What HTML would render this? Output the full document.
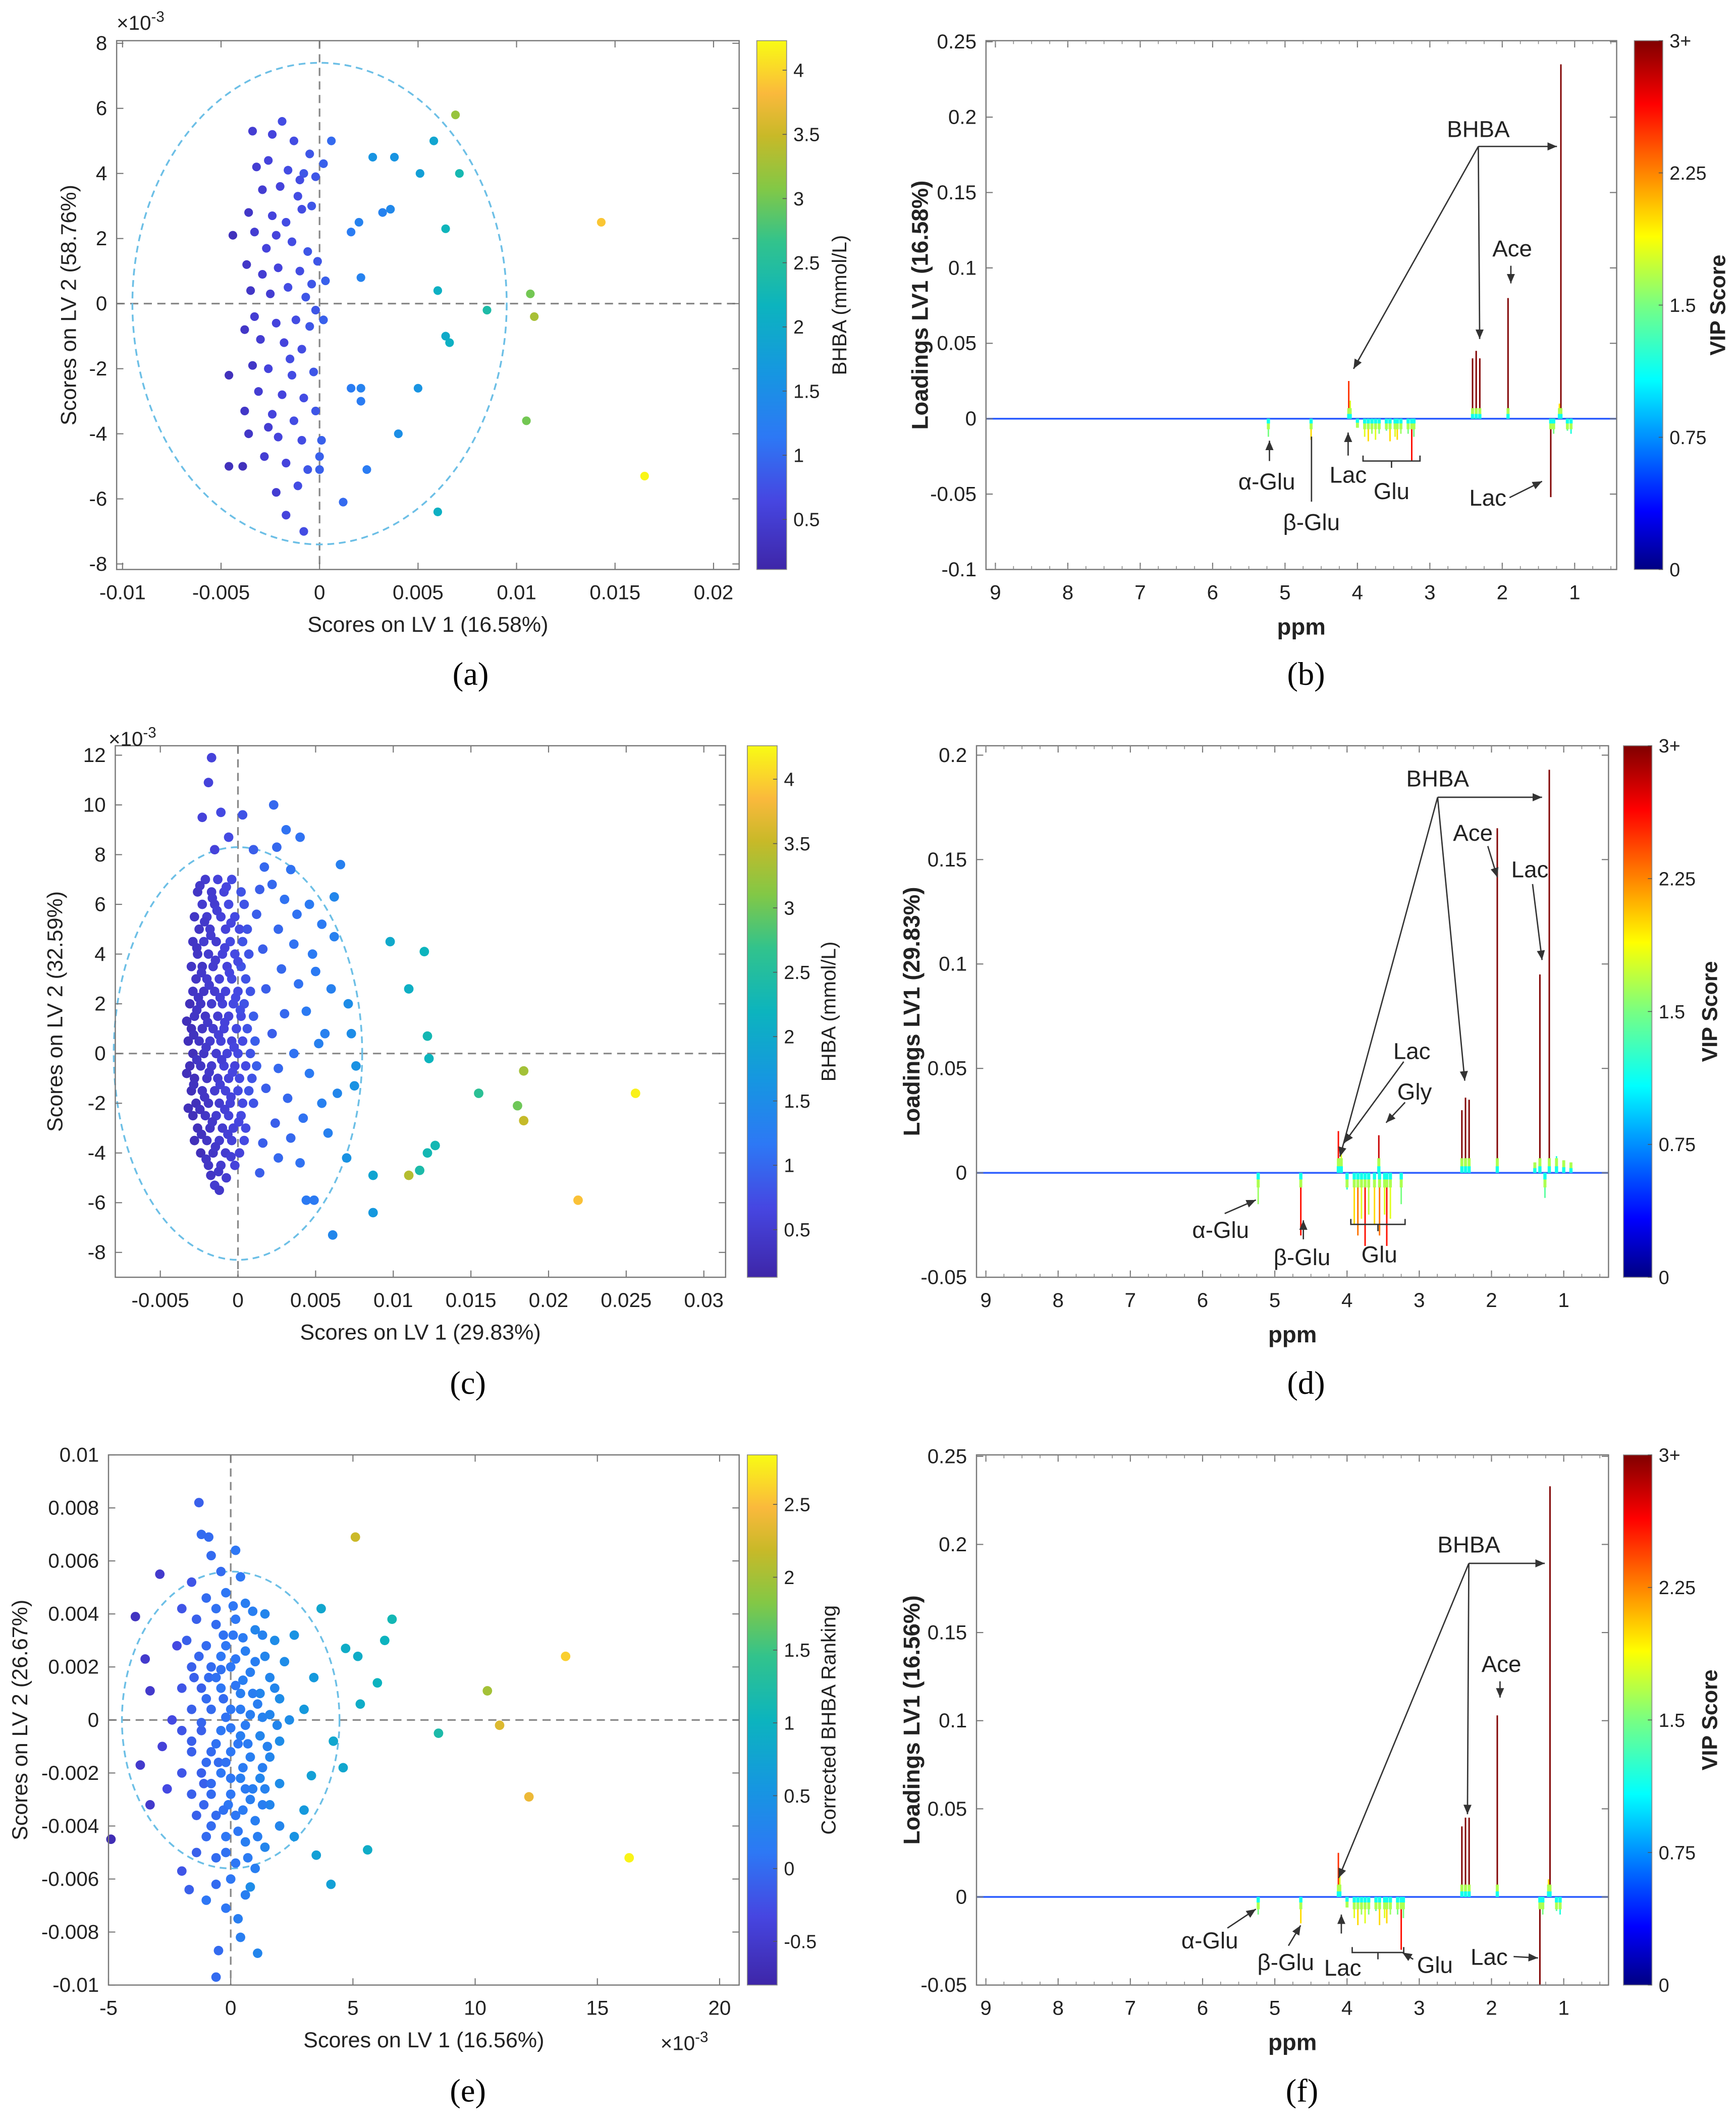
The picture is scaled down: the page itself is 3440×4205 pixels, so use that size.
<!DOCTYPE html>
<html><head><meta charset="utf-8"><style>
html,body{margin:0;padding:0;background:#fff;}
svg{display:block;}
text{font-family:"Liberation Sans",sans-serif;fill:#222;}
.cap{font-family:"Liberation Serif",serif;font-size:24px;fill:#000;}
</style></head><body>
<svg id="fig" width="3440" height="4205" viewBox="0 0 1280 1565" preserveAspectRatio="none" xmlns="http://www.w3.org/2000/svg">
<rect width="1280" height="1565" fill="#fff"/>
<text class="cap" x="347" y="505" text-anchor="middle">(a)</text>
<text class="cap" x="963" y="505" text-anchor="middle">(b)</text>
<text class="cap" x="345" y="1028" text-anchor="middle">(c)</text>
<text class="cap" x="963" y="1028" text-anchor="middle">(d)</text>
<text class="cap" x="345" y="1550" text-anchor="middle">(e)</text>
<text class="cap" x="960" y="1550" text-anchor="middle">(f)</text>
</svg>
<script>
// ---------- DATA ----------
// scores in units of 1e-3 : [x, y, colour value]
const aPts=[[6.9,5.8,3.2],[14.3,2.5,3.9],[16.5,-5.3,4.2],[10.7,0.3,3.0],[10.9,-0.4,3.3],[10.5,-3.6,3.0],[8.5,-0.2,2.4],[7.1,4.0,2.3],[5.8,5.0,1.9],[5.1,4.0,1.8],[6.4,2.3,2.2],[6.0,0.4,2.1],[6.4,-1.0,2.0],[6.6,-1.2,2.1],[6.0,-6.4,2.1],[5.0,-2.6,1.6],[4.0,-4.0,1.5],[2.4,-5.1,1.2],[1.2,-6.1,1.0],[3.6,2.9,1.4],[3.2,2.8,1.3],[2.7,4.5,1.6],[3.8,4.5,1.6],[2.1,0.8,1.3],[2.0,2.5,1.3],[1.6,2.2,1.2],[1.6,-2.6,1.2],[2.1,-2.6,1.3],[2.1,-3.0,1.2],[0.6,5.0,1.0],[0.2,4.3,0.9],[0.3,0.7,0.9],[0.2,-0.5,0.9],[0.1,-4.2,0.9],[0.0,-4.7,0.9],[0.0,-5.1,0.9],
[-3.4,5.3,0.5],[-2.4,5.2,0.6],[-1.9,5.6,0.7],[-1.3,5.0,0.7],[-0.5,4.6,0.8],[-3.2,4.2,0.5],[-2.6,4.4,0.6],[-1.6,4.1,0.7],[-0.8,4.0,0.8],[-0.2,3.9,0.8],[-2.9,3.5,0.5],[-2.0,3.6,0.6],[-1.1,3.3,0.7],[-0.4,3.0,0.8],[-3.6,2.8,0.4],[-2.4,2.7,0.6],[-1.7,2.5,0.7],[-0.9,2.9,0.7],[-4.4,2.1,0.3],[-3.3,2.2,0.5],[-2.7,1.7,0.6],[-1.4,1.9,0.7],[-0.6,1.6,0.8],[-0.1,1.3,0.8],[-3.7,1.2,0.4],[-2.1,1.1,0.6],[-1.0,1.0,0.7],[-0.4,0.6,0.8],[-3.5,0.4,0.4],[-2.5,0.3,0.5],[-1.6,0.5,0.7],[-0.7,0.2,0.8],[-0.2,-0.2,0.8],[-3.3,-0.4,0.5],[-2.2,-0.6,0.6],[-1.2,-0.5,0.7],[-0.5,-0.7,0.8],[-3.0,-1.1,0.5],[-1.8,-1.2,0.6],[-0.9,-1.4,0.7],[-4.6,-2.2,0.3],[-3.4,-1.9,0.4],[-2.6,-2.0,0.6],[-1.4,-2.2,0.7],[-0.3,-2.1,0.8],[-3.1,-2.7,0.5],[-1.9,-2.8,0.6],[-0.8,-2.9,0.7],[-3.8,-3.3,0.4],[-2.4,-3.4,0.6],[-1.3,-3.6,0.7],[-0.2,-3.3,0.8],[-3.6,-4.0,0.4],[-2.1,-4.1,0.6],[-0.9,-4.2,0.7],[-4.6,-5.0,0.3],[-3.9,-5.0,0.3],[-2.8,-4.7,0.5],[-1.7,-4.9,0.6],[-0.6,-5.1,0.8],[-2.2,-5.8,0.5],[-1.1,-5.6,0.7],[-1.7,-6.5,0.6],[-0.8,-7.0,0.7],[-2.6,-3.8,0.5],[-1.5,-1.7,0.7],[-2.9,0.9,0.5],[-2.2,2.1,0.6],[-3.8,-0.8,0.4],[-1.0,3.8,0.7]];
const cPts=[[-1.7,11.9,0.6],[-1.9,10.9,0.6],[-1.1,9.7,0.7],[0.3,9.6,0.8],[2.3,10.0,1.0],[3.1,9.0,1.1],[4.0,8.7,1.1],[6.6,7.6,1.3],[9.8,4.5,2.0],[12.0,4.1,2.2],[11.0,2.6,2.1],[12.2,0.7,2.3],[12.3,-0.2,2.2],[15.5,-1.6,2.6],[18.4,-0.7,3.3],[18.0,-2.1,3.0],[18.4,-2.7,3.5],[25.6,-1.6,4.2],[21.9,-5.9,3.9],[11.0,-4.9,3.4],[11.7,-4.7,2.4],[12.7,-3.7,2.3],[12.2,-4.0,2.3],[8.7,-4.9,1.9],[8.7,-6.4,1.7],[6.1,-7.3,1.4],[4.4,-5.9,1.2],[4.9,-5.9,1.2],[7.0,-4.2,1.6],[7.6,-0.5,1.6],[7.5,-1.3,1.6],[7.3,0.8,1.5],[7.1,2.0,1.5],[6.2,6.3,1.4],[6.2,4.7,1.3],[5.0,3.3,1.2],[4.4,1.7,1.2],[5.6,0.8,1.3],[5.2,0.4,1.3],[3.4,7.4,1.1],[2.5,8.3,1.0],[1.7,7.5,1.0],[-2.3,9.5,0.6],[-0.6,8.7,0.7],[-1.5,8.2,0.6],[1.0,8.2,0.9],
[2.2,6.8,1.0],[3.0,6.2,1.1],[3.8,5.6,1.1],[4.6,6.0,1.2],[2.6,5.0,1.0],[3.6,4.4,1.1],[4.8,4.0,1.2],[1.6,4.2,0.9],[2.8,3.4,1.0],[3.9,2.8,1.1],[1.8,2.6,0.9],[3.0,1.6,1.0],[2.2,0.8,0.9],[3.6,0.0,1.1],[4.6,-0.8,1.2],[2.6,-0.6,1.0],[1.8,-1.4,0.9],[3.2,-1.8,1.0],[4.2,-2.6,1.1],[5.4,-2.0,1.3],[2.4,-2.8,0.9],[3.4,-3.4,1.0],[1.6,-3.6,0.9],[2.6,-4.2,1.0],[4.0,-4.4,1.1],[1.4,-4.8,0.9],[5.8,-3.2,1.3],[6.4,-1.6,1.4],[6.0,2.6,1.3],[1.2,5.6,0.9],[1.4,6.6,0.9],[5.4,5.2,1.2],
[-2.1,7.0,0.5],[-1.3,7.0,0.6],[-0.4,7.0,0.7],[-2.6,6.5,0.4],[-1.7,6.5,0.5],[-0.9,6.5,0.6],[0.2,6.5,0.8],[-2.3,6.0,0.5],[-1.5,6.0,0.5],[-0.6,6.0,0.7],[0.4,6.0,0.8],[-2.8,5.5,0.4],[-2.0,5.5,0.5],[-1.1,5.5,0.6],[-0.2,5.5,0.7],[-2.5,5.0,0.4],[-1.8,5.0,0.5],[-0.8,5.0,0.6],[0.1,5.0,0.7],[0.6,5.0,0.8],[-2.9,4.5,0.4],[-2.2,4.5,0.5],[-1.4,4.5,0.5],[-0.5,4.5,0.7],[0.3,4.5,0.8],[-2.6,4.0,0.4],[-1.9,4.0,0.5],[-1.0,4.0,0.6],[-0.2,4.0,0.7],[0.7,4.0,0.8],[-3.0,3.5,0.4],[-2.3,3.5,0.4],[-1.6,3.5,0.5],[-0.7,3.5,0.6],[0.2,3.5,0.8],[-2.7,3.0,0.4],[-2.0,3.0,0.5],[-1.2,3.0,0.6],[-0.4,3.0,0.7],[0.5,3.0,0.8],[-2.9,2.5,0.4],[-2.2,2.5,0.4],[-1.5,2.5,0.5],[-0.8,2.5,0.6],[0.0,2.5,0.7],[0.8,2.5,0.8],[-3.1,2.0,0.3],[-2.4,2.0,0.4],[-1.7,2.0,0.5],[-1.0,2.0,0.6],[-0.3,2.0,0.7],[0.4,2.0,0.8],[-2.8,1.5,0.4],[-2.1,1.5,0.4],[-1.3,1.5,0.5],[-0.6,1.5,0.6],[0.2,1.5,0.7],[1.0,1.5,0.9],[-3.0,1.0,0.3],[-2.3,1.0,0.4],[-1.6,1.0,0.5],[-0.9,1.0,0.6],[-0.1,1.0,0.7],[0.6,1.0,0.8],[-3.2,0.5,0.3],[-2.5,0.5,0.4],[-1.8,0.5,0.5],[-1.1,0.5,0.6],[-0.4,0.5,0.6],[0.3,0.5,0.7],[1.1,0.5,0.9],[-2.9,0.0,0.3],[-2.2,0.0,0.4],[-1.4,0.0,0.5],[-0.7,0.0,0.6],[0.0,0.0,0.7],[0.8,0.0,0.8],[-3.1,-0.5,0.3],[-2.4,-0.5,0.4],[-1.7,-0.5,0.5],[-0.9,-0.5,0.6],[-0.2,-0.5,0.6],[0.5,-0.5,0.7],[1.2,-0.5,0.9],[-2.8,-1.0,0.3],[-2.0,-1.0,0.4],[-1.3,-1.0,0.5],[-0.6,-1.0,0.6],[0.1,-1.0,0.7],[0.9,-1.0,0.8],[-3.0,-1.5,0.3],[-2.3,-1.5,0.4],[-1.5,-1.5,0.5],[-0.8,-1.5,0.6],[0.0,-1.5,0.7],[0.7,-1.5,0.8],[-2.7,-2.0,0.3],[-1.9,-2.0,0.4],[-1.2,-2.0,0.5],[-0.5,-2.0,0.6],[0.3,-2.0,0.7],[1.0,-2.0,0.8],[-2.9,-2.5,0.3],[-2.1,-2.5,0.4],[-1.4,-2.5,0.5],[-0.6,-2.5,0.6],[0.2,-2.5,0.7],[-2.6,-3.0,0.3],[-1.8,-3.0,0.4],[-1.0,-3.0,0.5],[-0.3,-3.0,0.6],[0.5,-3.0,0.7],[-2.8,-3.5,0.3],[-2.0,-3.5,0.4],[-1.2,-3.5,0.5],[-0.4,-3.5,0.6],[0.4,-3.5,0.7],[-2.4,-4.0,0.3],[-1.6,-4.0,0.4],[-0.8,-4.0,0.5],[0.1,-4.0,0.6],[-1.9,-4.5,0.4],[-1.1,-4.5,0.5],[-0.2,-4.5,0.6],[-1.5,-5.3,0.5],
[-2.45,6.75,0.45],[-1.65,6.25,0.5],[-0.75,6.7,0.65],[-2.15,5.3,0.45],[-1.35,5.75,0.55],[-0.45,5.25,0.65],[-2.65,4.25,0.4],[-1.75,4.75,0.5],[-0.85,4.25,0.6],[0.0,3.7,0.7],[-2.35,3.25,0.45],[-1.45,3.75,0.5],[-0.55,3.25,0.65],[-2.55,2.25,0.4],[-1.85,2.75,0.5],[-1.15,2.25,0.55],[-0.15,2.25,0.7],[-2.65,1.75,0.4],[-1.95,1.25,0.45],[-0.85,1.25,0.6],[0.15,1.75,0.75],[-2.85,0.75,0.35],[-2.05,0.25,0.45],[-1.25,0.75,0.55],[-0.25,0.25,0.65],[-2.65,-0.25,0.4],[-1.85,-0.75,0.45],[-1.05,-0.25,0.55],[-0.35,-0.75,0.65],[-2.85,-1.25,0.35],[-2.15,-1.75,0.4],[-1.15,-1.25,0.55],[-0.45,-1.75,0.6],[-2.45,-2.25,0.35],[-1.65,-2.75,0.45],[-0.85,-2.25,0.55],[0.05,-2.75,0.65],[-2.35,-3.25,0.35],[-1.45,-3.75,0.45],[-0.65,-3.25,0.55],[-2.05,-4.25,0.4],[-1.25,-4.75,0.45],[-0.45,-4.15,0.55],[-1.75,-4.9,0.4],[-0.75,-5.0,0.5],[-1.2,-5.5,0.45],[-3.3,1.3,0.3],[-3.3,-0.8,0.3],[-3.2,-2.2,0.3]];
const ePts=[[-1.3,8.2,-0.1],[-0.9,6.9,0.0],[5.1,6.9,2.2],[13.7,2.4,2.6],[10.5,1.1,2.0],[11.0,-0.2,2.3],[12.2,-2.9,2.4],[16.3,-5.2,2.8],[8.5,-0.5,1.2],[6.6,3.8,1.1],[6.3,3.0,1.0],[5.2,2.4,0.9],[5.3,0.6,0.9],[6.0,1.4,1.0],[5.6,-4.9,0.9],[4.1,-6.2,0.7],[3.5,-5.1,0.7],[3.3,-2.1,0.7],[3.7,4.2,0.8],[4.7,2.7,0.9],[-4.9,-4.5,-0.7],[-3.9,3.9,-0.6],[-2.9,5.5,-0.5],[-3.5,2.3,-0.5],[-3.3,1.1,-0.5],[-3.7,-1.7,-0.5],[-3.3,-3.2,-0.5],[-2.0,-5.7,-0.2],[-1.7,-6.4,-0.1],[-0.6,-9.7,0.0],[-0.5,-8.7,0.0],[1.1,-8.8,0.3],[0.4,-8.2,0.2],[0.3,-7.5,0.2],[-0.2,-7.1,0.1],[-1.0,-6.8,0.1],[0.8,-6.3,0.4],[4.2,-0.8,0.8],[4.6,-1.8,0.8],[3.0,0.4,0.6],[3.4,1.6,0.6],[2.6,3.2,0.5],[3.0,-3.4,0.6],[2.6,-4.4,0.5],[-2.6,-2.6,-0.3],[-2.4,0.0,-0.3],[-2.2,2.8,-0.3],[-2.8,-1.0,-0.4],[-1.6,5.2,-0.2],[-2.0,4.2,-0.2],
[-1.0,4.6,0.0],[-0.2,4.8,0.1],[0.6,4.4,0.2],[1.4,4.0,0.3],[-1.4,3.8,-0.1],[-0.6,3.6,0.0],[0.2,3.8,0.1],[1.0,3.4,0.3],[1.8,3.0,0.4],[-1.8,3.0,-0.1],[-1.0,2.8,0.0],[-0.2,2.8,0.1],[0.6,2.6,0.2],[1.4,2.4,0.3],[2.2,2.2,0.4],[-1.6,2.0,-0.1],[-0.8,2.0,0.0],[0.0,2.0,0.1],[0.8,1.8,0.2],[1.6,1.6,0.3],[-2.0,1.2,-0.2],[-1.2,1.2,-0.1],[-0.4,1.2,0.1],[0.4,1.0,0.2],[1.2,1.0,0.3],[2.0,0.8,0.4],[-1.6,0.4,-0.1],[-0.8,0.4,0.0],[0.0,0.4,0.1],[0.8,0.2,0.2],[1.6,0.2,0.3],[2.4,0.0,0.4],[-2.0,-0.4,-0.2],[-1.2,-0.4,-0.1],[-0.4,-0.4,0.1],[0.4,-0.6,0.2],[1.2,-0.6,0.3],[2.0,-0.8,0.4],[-1.6,-1.2,-0.1],[-0.8,-1.2,0.0],[0.0,-1.2,0.1],[0.8,-1.4,0.2],[1.6,-1.4,0.3],[-2.0,-2.0,-0.2],[-1.2,-2.0,-0.1],[-0.4,-2.0,0.1],[0.4,-2.2,0.2],[1.2,-2.2,0.3],[2.0,-2.4,0.4],[-1.6,-2.8,-0.1],[-0.8,-2.8,0.0],[0.0,-2.8,0.1],[0.8,-3.0,0.2],[1.6,-3.2,0.3],[-1.4,-3.6,-0.1],[-0.6,-3.6,0.0],[0.2,-3.6,0.1],[1.0,-3.8,0.2],[2.0,-4.0,0.3],[-1.0,-4.4,0.0],[-0.2,-4.4,0.1],[0.6,-4.6,0.2],[1.4,-4.8,0.3],[-0.6,-5.2,0.0],[0.2,-5.4,0.1],[1.0,-5.6,0.2],[-1.4,-5.0,-0.1],[0.0,-6.0,0.1],[-0.6,-6.2,0.0],[0.6,-6.6,0.2],[-0.4,5.6,0.0],[0.4,5.4,0.1],[-0.8,6.2,0.0],[0.2,6.4,0.1],[-1.2,7.0,0.0],[-0.4,2.4,0.1],[0.3,-0.9,0.1],[-0.3,0.8,0.0],[0.5,1.5,0.2],[-0.5,-1.6,0.0],[0.9,-2.6,0.2],[-1.1,-2.4,-0.1],[1.1,0.6,0.2],[-0.9,1.6,0.0],[0.1,3.2,0.1],[-0.1,-3.2,0.1],
[-0.6,4.2,0.05],[0.1,4.3,0.1],[0.9,4.1,0.2],[-0.3,3.2,0.05],[0.5,3.1,0.15],[1.3,3.2,0.25],[-1.3,2.4,-0.05],[0.2,2.3,0.1],[1.0,2.2,0.2],[-0.6,1.6,0.05],[0.2,1.3,0.1],[0.9,1.0,0.2],[1.8,1.2,0.3],[-1.0,0.8,0.0],[-0.2,0.1,0.05],[0.4,0.4,0.15],[1.3,0.1,0.25],[-1.2,-0.1,-0.05],[-0.6,-0.9,0.05],[0.0,-0.3,0.1],[0.7,-0.9,0.15],[1.5,-1.0,0.25],[-1.0,-1.6,0.0],[-0.2,-1.6,0.05],[0.5,-1.8,0.15],[1.3,-1.8,0.2],[-0.8,-2.4,0.0],[0.0,-2.2,0.1],[0.6,-2.6,0.15],[1.4,-2.6,0.25],[-1.1,-3.2,-0.05],[-0.3,-3.4,0.05],[0.5,-3.4,0.15],[1.3,-3.2,0.2],[-0.8,-4.0,0.0],[0.3,-4.2,0.1],[1.1,-4.4,0.2],[-0.2,-5.0,0.05],[0.7,-5.2,0.15],[-0.4,1.9,0.05],[0.6,-0.2,0.15],[-1.6,-0.8,-0.1],[1.9,-0.2,0.3],[-1.5,1.6,-0.1]];
// loadings spectra: ppm, loading value, VIP score
const bPpm=[1.19,1.21,1.92,2.31,2.36,2.41,4.12,4.10,1.33,1.29,1.10,1.05,5.23,4.64,3.90,3.85,3.80,3.75,3.70,3.55,3.48,3.45,3.40,3.25,3.22,4.00,3.60,3.30];
const bVal=[0.235,0.01,0.08,0.04,0.045,0.04,0.025,0.012,-0.052,-0.01,-0.008,-0.01,-0.012,-0.014,-0.012,-0.015,-0.01,-0.014,-0.01,-0.015,-0.012,-0.014,-0.01,-0.028,-0.012,-0.006,-0.008,-0.01];
const bVip=[3,2,3,3,3,3,2.5,1.8,3,1.5,1.4,1.2,1.5,2,1.8,2,1.6,1.8,1.5,2,1.8,2,1.6,2.6,1.5,1.3,1.4,1.5];
const dPpm=[1.20,1.33,1.92,2.31,2.36,2.41,4.12,4.08,3.56,1.10,1.00,0.90,1.40,5.23,4.64,3.90,3.85,3.80,3.75,3.70,3.62,3.55,3.48,3.45,3.40,3.25,4.00,1.26];
const dVal=[0.193,0.095,0.165,0.035,0.036,0.03,0.02,0.01,0.018,0.008,0.006,0.005,0.005,-0.015,-0.03,-0.025,-0.03,-0.022,-0.035,-0.02,-0.025,-0.03,-0.02,-0.035,-0.022,-0.015,-0.008,-0.012];
const dVip=[3,3,3,3,3,3,2.6,1.8,2.8,1.2,1.1,1.0,1.2,1.6,2.6,2,2.3,1.8,2.6,1.7,2,2.3,1.8,2.6,1.8,1.5,1.2,1.4];
const fPpm=[1.19,1.21,1.92,2.31,2.36,2.41,4.12,4.10,1.33,1.29,1.10,1.05,5.23,4.64,3.90,3.85,3.80,3.75,3.70,3.55,3.48,3.45,3.40,3.25,3.22,4.00,3.60,3.30];
const fVal=[0.233,0.01,0.103,0.045,0.045,0.04,0.025,0.012,-0.05,-0.01,-0.008,-0.01,-0.01,-0.015,-0.012,-0.016,-0.01,-0.015,-0.01,-0.016,-0.012,-0.015,-0.01,-0.03,-0.012,-0.006,-0.008,-0.01];
const fVip=[3,2,3,3,3,3,2.5,1.8,3,1.5,1.4,1.2,1.5,2,1.8,2,1.6,1.8,1.5,2,1.8,2,1.6,2.6,1.5,1.3,1.4,1.5];

// ---------- helpers ----------
const NS="http://www.w3.org/2000/svg";
const svg=document.getElementById('fig');
function mk(tag,at,parent){const e=document.createElementNS(NS,tag);for(const k in at)e.setAttribute(k,at[k]);(parent||svg).appendChild(e);return e;}
function txt(s,x,y,sz,anchor,parent,extra){const e=mk('text',Object.assign({x:x,y:y,'font-size':sz,'text-anchor':anchor||'middle'},extra||{}),parent);e.textContent=s;return e;}
function lerpStops(stops,t){t=Math.max(0,Math.min(1,t));for(let i=1;i<stops.length;i++){if(t<=stops[i][0]){const a=stops[i-1],b=stops[i],u=(t-a[0])/(b[0]-a[0]);return 'rgb('+[1,2,3].map(k=>Math.round(a[k]+(b[k]-a[k])*u)).join(',')+')';}}const l=stops[stops.length-1];return 'rgb('+l[1]+','+l[2]+','+l[3]+')';}
const parula=[[0,62,38,168],[0.13,70,70,225],[0.25,45,120,245],[0.37,22,150,225],[0.5,12,180,190],[0.62,50,195,140],[0.72,130,200,70],[0.82,200,185,40],[0.9,250,185,60],[1,249,251,20]];
const jet=[[0,0,0,130],[0.11,0,0,255],[0.36,0,255,255],[0.5,120,255,130],[0.63,255,255,0],[0.88,255,0,0],[1,128,0,0]];
function colorbar(g,x,y0,y1,w,stops,ticks,vmin,vmax,name){
  const id='grad'+name;const defs=mk('defs',{},g);const lg=mk('linearGradient',{id:id,x1:0,y1:1,x2:0,y2:0},defs);
  stops.forEach(s=>mk('stop',{offset:s[0],'stop-color':'rgb('+s[1]+','+s[2]+','+s[3]+')'},lg));
  const r=mk('rect',{x:x,y:y0,width:w,height:y1-y0,fill:'url(#'+id+')',stroke:'#888','stroke-width':0.6},g);
  
  
  ticks.forEach(t=>{const yy=y1-(t[0]-vmin)/(vmax-vmin)*(y1-y0);
    mk('line',{x1:x+w-3,x2:x+w,y1:yy,y2:yy,stroke:'#555','stroke-width':0.6},g);
    const e=txt(t[1],x+w+5,yy+5,14,'start',g);});
}
function frame(g,L,T,R,B,xt,yt,sx,sy,minorX){
  mk('rect',{x:L,y:T,width:R-L,height:B-T,fill:'none',stroke:'#777','stroke-width':0.9},g);
  xt.forEach(t=>{const px=sx(t[0]);mk('line',{x1:px,x2:px,y1:B,y2:B-5,stroke:'#777','stroke-width':0.8},g);mk('line',{x1:px,x2:px,y1:T,y2:T+5,stroke:'#777','stroke-width':0.8},g);
    const e=txt(t[1],px,B+22,15,'middle',g);});
  if(minorX)minorX.forEach(v=>{const px=sx(v);mk('line',{x1:px,x2:px,y1:T,y2:T+2.5,stroke:'#888','stroke-width':0.6},g);mk('line',{x1:px,x2:px,y1:B,y2:B-2.5,stroke:'#888','stroke-width':0.6},g);});
  yt.forEach(t=>{const py=sy(t[0]);mk('line',{x1:L,x2:L+5,y1:py,y2:py,stroke:'#777','stroke-width':0.8},g);mk('line',{x1:R,x2:R-5,y1:py,y2:py,stroke:'#777','stroke-width':0.8},g);
    const e=txt(t[1],L-7,py+5,15,'end',g);});
}
function scatter(cfg){
  const g=mk('g',{});
  const sx=v=>cfg.L+(v-cfg.xd[0])/(cfg.xd[1]-cfg.xd[0])*(cfg.R-cfg.L);
  const sy=v=>cfg.B-(v-cfg.yd[0])/(cfg.yd[1]-cfg.yd[0])*(cfg.B-cfg.T);
  mk('line',{x1:cfg.L,x2:cfg.R,y1:sy(0),y2:sy(0),stroke:'#888','stroke-width':1.2,'stroke-dasharray':'6,4'},g);
  mk('line',{x1:sx(0),x2:sx(0),y1:cfg.T,y2:cfg.B,stroke:'#888','stroke-width':1.2,'stroke-dasharray':'6,4'},g);
  const el=mk('ellipse',{cx:sx(cfg.ell[0]),cy:sy(cfg.ell[1]),rx:Math.abs(sx(cfg.ell[2])-sx(0)),ry:Math.abs(sy(cfg.ell[3])-sy(0)),fill:'none',stroke:'#6cbfe6','stroke-width':1.3,'stroke-dasharray':'5,3.5'},g);
  
  
  cfg.pts.forEach(p=>{const c=mk('circle',{cx:sx(p[0]*cfg.kx),cy:sy(p[1]*cfg.ky),r:cfg.r,fill:lerpStops(parula,(p[2]-cfg.cd[0])/(cfg.cd[1]-cfg.cd[0]))},g);
    
    });
  frame(g,cfg.L,cfg.T,cfg.R,cfg.B,cfg.xt,cfg.yt,sx,sy);
  colorbar(g,cfg.cb[0],cfg.T,cfg.B,cfg.cb[1],parula,cfg.cticks,cfg.cd[0],cfg.cd[1],cfg.name);
  let e=txt(cfg.xl,(cfg.L+cfg.R)/2,cfg.B+46,16,'middle',g);
  e=txt(cfg.yl,0,0,16,'middle',g,{transform:'translate('+cfg.ylx+','+(cfg.T+cfg.B)/2+') rotate(-90)'});
  e=txt(cfg.cl,0,0,15,'middle',g,{transform:'translate('+cfg.clx+','+(cfg.T+cfg.B)/2+') rotate(-90)'});
  if(cfg.exp){e=mk('text',{x:cfg.exp[0],y:cfg.exp[1],'font-size':15},g);e.innerHTML='×10<tspan dy="-6" font-size="11">-3</tspan>';}
}
function loadings(cfg){
  const g=mk('g',{});
  const sx=v=>cfg.L+(cfg.xd[0]-v)/(cfg.xd[0]-cfg.xd[1])*(cfg.R-cfg.L);
  const sy=v=>cfg.B-(v-cfg.yd[0])/(cfg.yd[1]-cfg.yd[0])*(cfg.B-cfg.T);
  const base=mk('line',{x1:cfg.L,x2:cfg.R,y1:sy(0),y2:sy(0),stroke:'#2a5cff','stroke-width':1.3},g);
  
  
  cfg.ppm.forEach((p,i)=>{const v=cfg.val[i],vip=cfg.vip[i];const x=sx(p);
    const c=mk('line',{x1:x,x2:x,y1:sy(0),y2:sy(v),stroke:lerpStops(jet,vip/3),'stroke-width':1.1},g);
    
    
    const bl=Math.sign(v)*Math.min(Math.abs(v),0.007);
    mk('line',{x1:x,x2:x,y1:sy(0),y2:sy(bl),stroke:lerpStops(jet,0.55),'stroke-width':2.2},g);
    mk('line',{x1:x,x2:x,y1:sy(0),y2:sy(bl*0.45),stroke:lerpStops(jet,0.38),'stroke-width':2.4},g);});
  const minor=[];for(let k=9;k>=0.5;k-=0.25)minor.push(k);
  frame(g,cfg.L,cfg.T,cfg.R,cfg.B,cfg.xt,cfg.yt,sx,sy,minor);
  colorbar(g,cfg.cb[0],cfg.T,cfg.B,cfg.cb[1],jet,[[3,'3+'],[2.25,'2.25'],[1.5,'1.5'],[0.75,'0.75'],[0,'0']],0,3,cfg.name);
  let e=txt('ppm',(cfg.L+cfg.R)/2,cfg.B+48,17,'middle',g,{'font-weight':'bold'});
  e=txt(cfg.yl,0,0,17,'middle',g,{'font-weight':'bold',transform:'translate('+cfg.ylx+','+(cfg.T+cfg.B)/2+') rotate(-90)'});
  e=txt('VIP Score',0,0,16,'middle',g,{'font-weight':'bold',transform:'translate('+cfg.vx+','+(cfg.T+cfg.B)/2+') rotate(-90)'});
  const defs=mk('defs',{},g);const m=mk('marker',{id:'ah'+cfg.name,markerWidth:8,markerHeight:8,refX:7,refY:4,orient:'auto',markerUnits:'userSpaceOnUse'},defs);mk('path',{d:'M0,1 L7,4 L0,7 Z',fill:'#333'},m);
  cfg.arrows.forEach(a=>{const l=mk('line',{x1:a[0],y1:a[1],x2:a[2],y2:a[3],stroke:'#333','stroke-width':1,'marker-end':a[4]===0?'':'url(#ah'+cfg.name+')'},g);});
  cfg.labels.forEach(a=>{const t=txt(a[0],a[1],a[2],17,'middle',g);});
  cfg.brackets.forEach(b=>{mk('path',{d:'M'+b[0]+','+(b[2]-4)+' L'+b[0]+','+b[2]+' L'+b[1]+','+b[2]+' L'+b[1]+','+(b[2]-4)+' M'+((b[0]+b[1])/2)+','+b[2]+' l0,5',fill:'none',stroke:'#333','stroke-width':1},g);});
}
const ppmT=[[9,'9'],[8,'8'],[7,'7'],[6,'6'],[5,'5'],[4,'4'],[3,'3'],[2,'2'],[1,'1']];

// ---------- panels ----------
scatter({name:'panel-a',L:86,R:545,T:30,B:420,xd:[-0.0103,0.0213],yd:[-8.17,8.08],kx:0.001,ky:1,pts:aPts,r:3.2,cd:[0.11,4.23],
 ell:[0,0,0.0095,7.4],xt:[[-0.01,'-0.01'],[-0.005,'-0.005'],[0,'0'],[0.005,'0.005'],[0.01,'0.01'],[0.015,'0.015'],[0.02,'0.02']],
 yt:[[8,'8'],[6,'6'],[4,'4'],[2,'2'],[0,'0'],[-2,'-2'],[-4,'-4'],[-6,'-6'],[-8,'-8']],cb:[558,22],
 cticks:[[4,'4'],[3.5,'3.5'],[3,'3'],[2.5,'2.5'],[2,'2'],[1.5,'1.5'],[1,'1'],[0.5,'0.5']],xl:'Scores on LV 1 (16.58%)',yl:'Scores on LV 2 (58.76%)',ylx:56,cl:'BHBA (mmol/L)',clx:624,exp:[86,22]});
scatter({name:'panel-c',L:85,R:535,T:550,B:942,xd:[-0.0079,0.0314],yd:[-9.0,12.38],kx:0.001,ky:1,pts:cPts,r:3.5,cd:[0.13,4.26],
 ell:[0,0,0.008,8.3],xt:[[-0.005,'-0.005'],[0,'0'],[0.005,'0.005'],[0.01,'0.01'],[0.015,'0.015'],[0.02,'0.02'],[0.025,'0.025'],[0.03,'0.03']],
 yt:[[12,'12'],[10,'10'],[8,'8'],[6,'6'],[4,'4'],[2,'2'],[0,'0'],[-2,'-2'],[-4,'-4'],[-6,'-6'],[-8,'-8']],cb:[551,22],
 cticks:[[4,'4'],[3.5,'3.5'],[3,'3'],[2.5,'2.5'],[2,'2'],[1.5,'1.5'],[1,'1'],[0.5,'0.5']],xl:'Scores on LV 1 (29.83%)',yl:'Scores on LV 2 (32.59%)',ylx:46,cl:'BHBA (mmol/L)',clx:616,exp:[80,550]});
scatter({name:'panel-e',L:80,R:545,T:1073,B:1464,xd:[-5,20.8],yd:[-0.01,0.01],kx:1,ky:0.001,pts:ePts,r:3.5,cd:[-0.8,2.84],
 ell:[0,0,4.45,0.0056],xt:[[-5,'-5'],[0,'0'],[5,'5'],[10,'10'],[15,'15'],[20,'20']],
 yt:[[0.01,'0.01'],[0.008,'0.008'],[0.006,'0.006'],[0.004,'0.004'],[0.002,'0.002'],[0,'0'],[-0.002,'-0.002'],[-0.004,'-0.004'],[-0.006,'-0.006'],[-0.008,'-0.008'],[-0.01,'-0.01']],cb:[551,22],
 cticks:[[2.5,'2.5'],[2,'2'],[1.5,'1.5'],[1,'1'],[0.5,'0.5'],[0,'0'],[-0.5,'-0.5']],xl:'Scores on LV 1 (16.56%)',yl:'Scores on LV 2 (26.67%)',ylx:20,cl:'Corrected  BHBA Ranking',clx:616,exp:[487,1512]});
loadings({name:'panel-b',L:727,R:1192,T:30,B:420,xd:[9.13,0.42],yd:[-0.1,0.2507],ppm:bPpm,val:bVal,vip:bVip,cb:[1205,21],xt:ppmT,
 yt:[[0.25,'0.25'],[0.2,'0.2'],[0.15,'0.15'],[0.1,'0.1'],[0.05,'0.05'],[0,'0'],[-0.05,'-0.05'],[-0.1,'-0.1']],yl:'Loadings LV1 (16.58%)',ylx:684,vx:1272,
 arrows:[[1090,108,998,272],[1090,108,1091,250],[1090,108,1148,108],[1114,196,1114,209],[936,340,936,325],[967,370,967,322,0],[994,336,994,319],[1113,367,1137,355]],
 labels:[['BHBA',1090,101],['Ace',1115,189],['α-Glu',934,361],['β-Glu',967,391],['Lac',994,356],['Glu',1026,368],['Lac',1097,373]],brackets:[[1005,1047,340]]});
loadings({name:'panel-d',L:720,R:1186,T:550,B:942,xd:[9.13,0.38],yd:[-0.05,0.2045],ppm:dPpm,val:dVal,vip:dVip,cb:[1197,21],xt:ppmT,
 yt:[[0.2,'0.2'],[0.15,'0.15'],[0.1,'0.1'],[0.05,'0.05'],[0,'0'],[-0.05,'-0.05']],yl:'Loadings LV1 (29.83%)',ylx:678,vx:1266,
 arrows:[[1060,588,988,853],[1060,588,1080,797],[1060,588,1137,588],[1097,624,1104,647],[1130,652,1137,708],[1035,783,991,843],[1036,813,1022,828],[903,895,926,885],[961,914,961,900]],
 labels:[['BHBA',1060,580],['Ace',1086,620],['Lac',1128,647],['Lac',1041,781],['Gly',1043,811],['α-Glu',900,913],['β-Glu',960,933],['Glu',1017,931]],brackets:[[996,1036,903]]});
loadings({name:'panel-f',L:720,R:1186,T:1073,B:1464,xd:[9.13,0.38],yd:[-0.05,0.2508],ppm:fPpm,val:fVal,vip:fVip,cb:[1197,21],xt:ppmT,
 yt:[[0.25,'0.25'],[0.2,'0.2'],[0.15,'0.15'],[0.1,'0.1'],[0.05,'0.05'],[0,'0'],[-0.05,'-0.05']],yl:'Loadings LV1 (16.56%)',ylx:678,vx:1266,
 arrows:[[1083,1153,987,1385],[1083,1153,1082,1338],[1083,1153,1139,1153],[1106,1240,1106,1252],[905,1422,926,1408],[950,1435,959,1420],[989,1426,989,1412],[1042,1445,1034,1440],[1116,1443,1134,1444]],
 labels:[['BHBA',1083,1145],['Ace',1107,1233],['α-Glu',892,1437],['β-Glu',948,1453],['Lac',990,1457],['Glu',1058,1455],['Lac',1098,1449]],brackets:[[997,1035,1440]]});
</script>
</body></html>
